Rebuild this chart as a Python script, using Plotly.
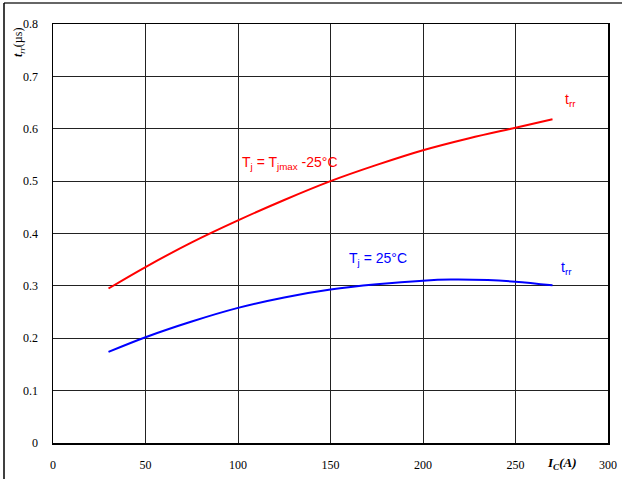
import plotly.graph_objects as go

# Data
ic_hot = [30, 50, 75, 100, 125, 150, 175, 200, 225, 250, 270]
trr_hot = [0.295, 0.336, 0.383, 0.425, 0.464, 0.500, 0.531, 0.559, 0.582, 0.602, 0.618]
ic_cold = [30, 50, 75, 100, 125, 150, 175, 200, 215, 235, 250, 270]
trr_cold = [0.174, 0.202, 0.232, 0.258, 0.278, 0.293, 0.303, 0.310, 0.312, 0.311, 0.308, 0.301]

x_ticks = [0, 50, 100, 150, 200, 250, 300]
y_ticks = [0, 0.1, 0.2, 0.3, 0.4, 0.5, 0.6, 0.7, 0.8]

W, H = 622, 479
ML, MT = 4, 3
PW, PH = W - ML, H - MT


def px(xp):
    return (xp - ML) / PW


def py(yp):
    return (H - yp) / PH


fig = go.Figure()
fig.add_trace(go.Scatter(x=ic_hot, y=trr_hot, mode="lines",
                         line=dict(color="#ff0000", width=2, shape="spline"),
                         showlegend=False, hoverinfo="skip"))
fig.add_trace(go.Scatter(x=ic_cold, y=trr_cold, mode="lines",
                         line=dict(color="#0000ff", width=2, shape="spline"),
                         showlegend=False, hoverinfo="skip"))

tickfont = dict(family="Liberation Serif", size=12, color="black")
fig.update_xaxes(range=[0, 300], tickvals=x_ticks,
                 ticktext=["0", "50", "100", "150", "200", "250", "300"],
                 domain=[px(53), px(608)],
                 showgrid=True, gridcolor="#222", gridwidth=1,
                 showline=True, linecolor="black", linewidth=1.5, mirror=True,
                 zeroline=False, ticks="", tickfont=tickfont, ticklabelstandoff=10,
                 automargin=False)
fig.update_yaxes(range=[0, 0.8], tickvals=y_ticks,
                 ticktext=["0", "0.1", "0.2", "0.3", "0.4", "0.5", "0.6", "0.7", "0.8"],
                 domain=[py(443), py(24)],
                 showgrid=True, gridcolor="#222", gridwidth=1,
                 showline=True, linecolor="black", linewidth=1.5, mirror=True,
                 zeroline=False, ticks="", tickfont=tickfont, ticklabelstandoff=11,
                 automargin=False)

ann_font_r = dict(family="Liberation Sans", size=14, color="#ff0000")
ann_font_b = dict(family="Liberation Sans", size=14, color="#0000ff")
fig.update_layout(
    width=W, height=H,
    margin=dict(l=ML, r=0, t=MT, b=0, autoexpand=False, pad=0),
    paper_bgcolor="white", plot_bgcolor="white",
    annotations=[
        dict(x=275.5, y=0.655, xref="x", yref="y", text="t<sub>rr</sub>",
             showarrow=False, font=ann_font_r, xanchor="left", yanchor="middle"),
        dict(x=273.5, y=0.335, xref="x", yref="y", text="t<sub>rr</sub>",
             showarrow=False, font=ann_font_b, xanchor="left", yanchor="middle"),
        dict(x=101, y=0.535, xref="x", yref="y",
             text="T<sub>j</sub> = T<sub>jmax</sub> -25°C",
             showarrow=False, font=ann_font_r, xanchor="left", yanchor="middle"),
        dict(x=159, y=0.352, xref="x", yref="y",
             text="T<sub>j</sub> = 25°C",
             showarrow=False, font=ann_font_b, xanchor="left", yanchor="middle"),
        dict(x=px(561), y=py(463), xref="paper", yref="paper",
             xanchor="center", yanchor="middle",
             text="<b><i>I</i></b><sub><b><i>C</i></b></sub><b><i>(A)</i></b>",
             showarrow=False, font=dict(family="Liberation Serif", size=13, color="black")),
        dict(x=px(19), y=py(43), xref="paper", yref="paper",
             xanchor="center", yanchor="middle",
             text="<b><i>t</i></b><sub><i>rr</i></sub>(µs)", textangle=-90,
             showarrow=False, font=dict(family="Liberation Serif", size=12, color="black")),
    ],
    shapes=[
        dict(type="line", xref="paper", yref="paper",
             x0=0, x1=1, y0=1, y1=1,
             line=dict(color="#333", width=1.5)),
        dict(type="line", xref="paper", yref="paper",
             x0=0, x1=0, y0=0, y1=1,
             line=dict(color="black", width=1.5)),
    ],
)

fig.write_html("out.html", config={"displayModeBar": False, "staticPlot": True},
               post_script="document.body.style.margin='0';document.body.style.padding='0';")
